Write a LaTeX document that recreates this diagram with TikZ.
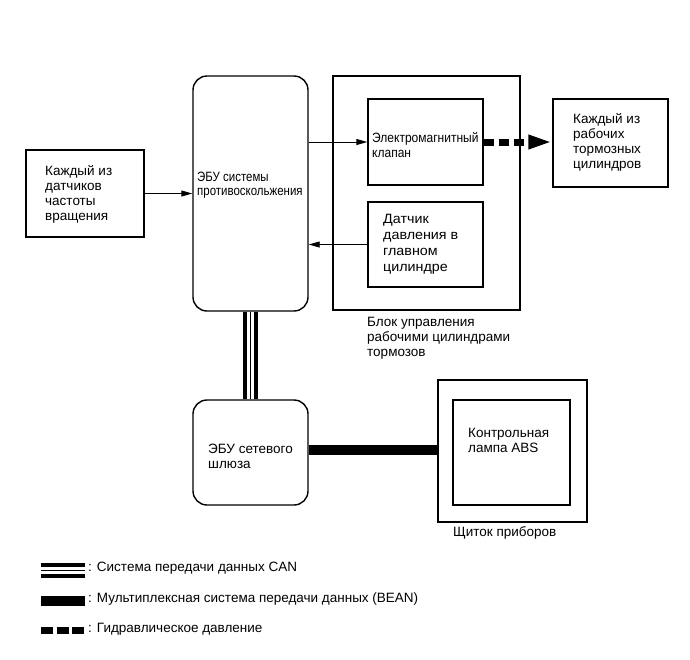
\documentclass[tikz,border=0pt]{standalone}
\usepackage{fontspec}
\setmainfont{Liberation Sans}
\newfontfamily\ecufont[FakeStretch=0.85]{Liberation Sans}
\newfontfamily\solfont[FakeStretch=0.89]{Liberation Sans}
\newfontfamily\sensfont[FakeStretch=1.06]{Liberation Sans}
\usetikzlibrary{arrows.meta}
\tikzset{
  box/.style={draw, line width=1.4pt, rectangle, inner sep=0pt},
  rbox/.style={box, rounded corners=14pt},
  txt/.style={anchor=west, align=left, inner sep=0pt, font=\fontsize{13.5}{15}\selectfont},
  arr/.style={line width=0.9pt, -{Triangle[length=11pt,width=6pt]}},
  canouter/.style={line width=15pt, black},
  canmid/.style={line width=7pt, white},
  caninner/.style={line width=1pt, black},
  bean/.style={line width=9.5pt, black},
  hydro/.style={line width=7pt, dash pattern=on 10pt off 5pt, -{Triangle[length=24pt,width=13pt]}},
}
\begin{document}
\begin{tikzpicture}[x=1pt,y=-1pt]
\useasboundingbox (0,0) rectangle (690,659);
% boxes
\node[box, minimum width=118pt, minimum height=87pt] (lbox) at (85,193.5) {};
\node[rbox, minimum width=115pt, minimum height=235pt] (ecu) at (250.5,193.5) {};
\node[box, minimum width=187pt, minimum height=234pt] (block) at (426.5,193) {};
\node[box, minimum width=115pt, minimum height=86pt] (sol) at (425.5,142) {};
\node[box, minimum width=115pt, minimum height=85pt] (sens) at (425.5,244.5) {};
\node[box, minimum width=115pt, minimum height=88pt] (rbox) at (610.5,143) {};
\node[rbox, minimum width=115pt, minimum height=105pt] (gw) at (250.5,452.5) {};
\node[box, minimum width=149pt, minimum height=142pt] (panel) at (512.5,451) {};
\node[box, minimum width=117pt, minimum height=105pt] (lamp) at (511.5,452.5) {};
% texts
\node[txt] (tl) at (45,194) {Каждый из\\датчиков\\частоты\\вращения};
\node[txt, font=\fontsize{13.5}{14.5}\selectfont\ecufont] (tecu) at (197,185) {ЭБУ системы\\противоскольжения};
\node[txt, font=\fontsize{13.5}{15}\selectfont\solfont] (tsol) at (372,145.5) {Электромагнитный\\клапан};
\node[txt, font=\fontsize{13.5}{16}\selectfont\sensfont] (tsens) at (383,244) {Датчик\\давления в\\главном\\цилиндре};
\node[txt] (tr) at (573,142) {Каждый из\\рабочих\\тормозных\\цилиндров};
\node[txt] (tblock) at (367,338) {Блок управления\\рабочими цилиндрами\\тормозов};
\node[txt] (tgw) at (208,456) {ЭБУ сетевого\\шлюза};
\node[txt] (tlamp) at (468,440) {Контрольная\\лампа ABS};
\node[txt] (tpanel) at (453,533) {Щиток приборов};
% connectors
\draw[arr] (lbox.east) -- (ecu.west |- lbox.east);
\draw[arr] (ecu.east |- sol.west) -- (sol.west);
\draw[arr] (sens.west) -- (ecu.east |- sens.west);
\draw[hydro] (sol.east) -- (rbox.west |- sol.east);
\draw[canouter] (ecu.south) -- (gw.north);
\draw[canmid] (ecu.south) -- (gw.north);
\draw[caninner] (ecu.south) -- (gw.north);
\draw[bean] (gw.east |- 0,450) -- (panel.west |- 0,450);
% legend
\coordinate (l1a) at (41,570);
\coordinate (l1b) at (85,570);
\coordinate (l2a) at (41,601);
\coordinate (l2b) at (85,601);
\coordinate (l3a) at (41,630);
\coordinate (l3b) at (85,630);
\draw[canouter] (l1a) -- (l1b);
\draw[canmid] (l1a) -- (l1b);
\draw[caninner] (l1a) -- (l1b);
\draw[bean] (l2a) -- (l2b);
\draw[line width=7pt, dash pattern=on 12pt off 3.5pt] (l3a) -- (l3b);
\node[txt] (lg1) at (88,568) {: Система передачи данных CAN};
\node[txt] (lg2) at (88,599) {: Мультиплексная система передачи данных (BEAN)};
\node[txt] (lg3) at (88,629) {: Гидравлическое давление};
\end{tikzpicture}
\end{document}
